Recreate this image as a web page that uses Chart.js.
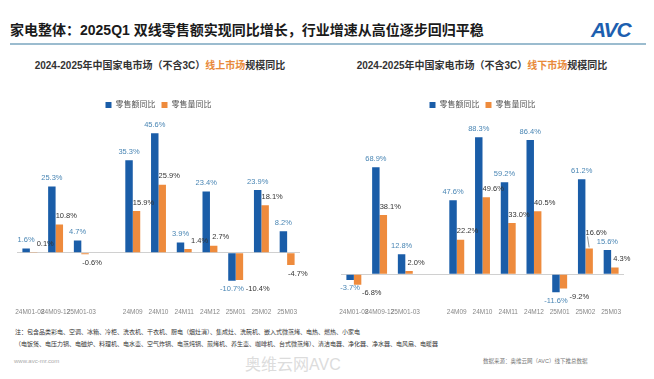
<!DOCTYPE html>
<html><head><meta charset="utf-8">
<script src="https://cdn.jsdelivr.net/npm/chart.js@4.4.1/dist/chart.umd.min.js"></script>
<style>
html,body{margin:0;padding:0;background:#fff;width:654px;height:379px;overflow:hidden;}
body{position:relative;font-family:"Liberation Sans","Noto Sans CJK SC",sans-serif;}
.t{position:absolute;white-space:nowrap;}
canvas{position:absolute;}
</style></head><body>
<div class="t" style="left:10px;top:22px;font-size:14px;font-weight:bold;color:#1a1a1a;line-height:16px;">家电整体：2025Q1 双线零售额实现同比增长，行业增速从高位逐步回归平稳</div>
<div class="t" style="left:591px;top:18px;font-size:21px;font-weight:bold;font-style:italic;color:#1d5fb0;letter-spacing:-1px;line-height:24px;">AVC</div>
<div class="t" style="left:10px;top:43px;width:636px;height:2px;background:#9bbccf;"></div>
<div class="t" style="left:0px;top:59px;width:320px;text-align:center;font-size:10px;font-weight:bold;color:#333;line-height:13px;">2024-2025年中国家电市场（不含3C）<span style="color:#e8893a">线上市场</span>规模同比</div>
<div class="t" style="left:322px;top:59px;width:320px;text-align:center;font-size:10px;font-weight:bold;color:#333;line-height:13px;">2024-2025年中国家电市场（不含3C）<span style="color:#e8893a">线下市场</span>规模同比</div>
<canvas id="c1" width="320" height="224" style="left:0px;top:95px;"></canvas>
<canvas id="c2" width="320" height="224" style="left:330px;top:95px;"></canvas>
<div class="t" style="left:15px;top:326px;font-size:6px;color:#333;line-height:12px;">注：包含品类彩电、空调、冰箱、冷柜、洗衣机、干衣机、厨电（烟灶消）、集成灶、洗碗机、嵌入式微蒸烤、电热、燃热、小家电<br>（电饭煲、电压力锅、电磁炉、料理机、电水壶、空气炸锅、电蒸炖锅、煎烤机、养生壶、咖啡机、台式微蒸烤）、清洁电器、净化器、净水器、电风扇、电暖器</div>
<div class="t" style="left:14px;top:358px;font-size:6px;color:#aaa;">www.avc-mr.com</div>
<div class="t" style="left:245px;top:351px;font-size:16px;color:#dcdcdc;">奥维云网AVC</div>
<div class="t" style="left:483px;top:357px;font-size:5.5px;color:#777;">数据来源：奥维云网（AVC）线下推总数据</div>
<script>
const categories = ['24M01-08','24M09-12','25M01-03','','24M09','24M10','24M11','24M12','25M01','25M02','25M03'];
const seriesNames = ['零售额同比','零售量同比'];
const onlineValue  = [1.6, 25.3, 4.7, null, 35.3, 45.6, 3.9, 23.4, -10.7, 23.9, 8.2];
const onlineVolume = [0.1, 10.8, -0.6, null, 15.9, 25.9, 1.4, 2.7, -10.4, 18.1, -4.7];
const offlineValue  = [-3.7, 68.9, 12.8, null, 47.6, 88.3, 59.2, 86.4, -11.6, 61.2, 15.6];
const offlineVolume = [-6.8, 38.1, 2.0, null, 22.2, 49.6, 33.0, 40.5, -9.2, 16.6, 4.3];

const BLUE = '#1a5da8', ORANGE = '#ee8b3d';
const LABEL_COLORS = ['#4a86b4', '#333333'];

const labelPlugin = {
  id: 'valueLabels',
  afterDatasetsDraw(chart) {
    const ctx = chart.ctx;
    ctx.save();
    ctx.font = '7.5px "Liberation Sans", sans-serif';
    ctx.textAlign = 'center';
    ctx.textBaseline = 'middle';
    const placed = [];
    const h = 8;
    chart.data.datasets.forEach((ds, di) => {
      const meta = chart.getDatasetMeta(di);
      meta.data.forEach((bar, i) => {
        const v = ds.data[i];
        if (v === null || v === undefined) return;
        const text = v.toFixed(1) + '%';
        const w = ctx.measureText(text).width;
        const neg = v < 0;
        const top = Math.min(bar.y, bar.base), bottom = Math.max(bar.y, bar.base);
        let x = bar.x + (di === 1 ? 7 : 0);
        let y = neg ? bottom + 8.5 : top - 8.5;
        let movedUp = false;
        for (let k = 0; k < 10; k++) {
          const hit = placed.find(p => Math.abs(p.x - x) < (p.w + w) / 2 + 1 && Math.abs(p.y - y) < h);
          if (!hit) break;
          const ox = (hit.w + w) / 2 + 1 - Math.abs(hit.x - x);
          if (neg || ox < 6) { x = hit.x + (hit.w + w) / 2 + 2; }
          else { y = hit.y - h - 1; movedUp = true; }
        }
        placed.push({x, y, w});
        ctx.fillStyle = LABEL_COLORS[di];
        ctx.fillText(text, x, y);
        if (movedUp) {
          ctx.strokeStyle = '#666';
          ctx.lineWidth = 0.7;
          ctx.beginPath();
          ctx.moveTo(x - w / 2 + 2, y + 4);
          ctx.lineTo(bar.x, top - 1);
          ctx.stroke();
        }
      });
    });
    ctx.restore();
  }
};

function makeChart(id, valueData, volumeData, ymin, ymax, padL, padR) {
  return new Chart(document.getElementById(id), {
    type: 'bar',
    data: {
      labels: categories,
      datasets: [
        {label: seriesNames[0], data: valueData, backgroundColor: BLUE, borderWidth: 0},
        {label: seriesNames[1], data: volumeData, backgroundColor: ORANGE, borderWidth: 0}
      ]
    },
    options: {
      responsive: false,
      animation: false,
      devicePixelRatio: 1,
      layout: {padding: {left: padL, right: padR, top: 0, bottom: 0}},
      datasets: {bar: {categoryPercentage: 0.58, barPercentage: 1.0}},
      plugins: {
        legend: {
          position: 'top',
          labels: {boxWidth: 6, boxHeight: 6, padding: 6, color: '#555',
                   font: {size: 8, family: '"Liberation Sans","Noto Sans CJK SC",sans-serif'}}
        },
        tooltip: {enabled: false}
      },
      scales: {
        x: {
          grid: {display: false, drawTicks: false},
          border: {display: false},
          ticks: {autoSkip: false, maxRotation: 0, minRotation: 0, padding: 3, color: '#888',
                  font: {size: 6.5, family: '"Liberation Sans",sans-serif'}}
        },
        y: {
          min: ymin, max: ymax,
          ticks: {display: false, stepSize: 10},
          grid: {drawTicks: false, lineWidth: 1,
                 color: c => (c.tick && c.tick.value === 0) ? '#d0d0d0' : 'rgba(0,0,0,0)'},
          border: {display: false}
        }
      }
    },
    plugins: [labelPlugin]
  });
}

makeChart('c1', onlineValue, onlineVolume, -20, 51, 17, 20);
makeChart('c2', offlineValue, offlineVolume, -20, 100, 11, 26);
</script>
</body></html>
